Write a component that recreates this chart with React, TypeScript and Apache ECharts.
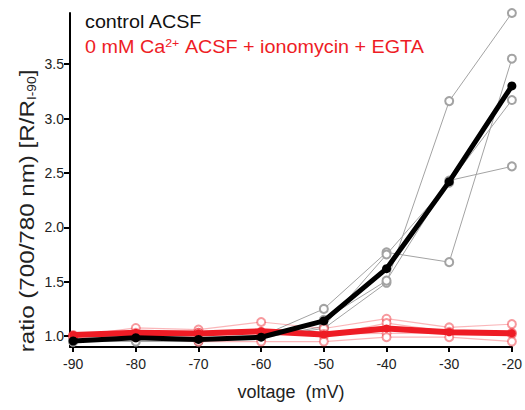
import React, { useEffect, useRef } from "react";
import * as echarts from "echarts";

const voltages = [-90, -80, -70, -60, -50, -40, -30, -20];

const controlTraces = [
  [0.95, 0.95, 0.95, 1.0, 1.25, 1.77, 1.68, 3.55],
  [0.96, 1.0, 0.98, 0.98, 1.09, 1.75, 2.41, 3.17],
  [0.95, 0.99, 0.97, 0.99, 1.07, 1.49, 3.16, 3.97],
  [0.96, 1.0, 0.98, 0.99, 1.15, 1.51, 2.43, 2.56],
];
const controlMean = [0.955, 0.985, 0.97, 0.99, 1.14, 1.62, 2.42, 3.3];

const zeroCaTraces = [
  [1.0, 1.075, 1.06, 1.13, 1.07, 1.16, 1.08, 1.11],
  [1.0, 1.02, 1.03, 1.03, 1.0, 1.12, 1.04, 1.03],
  [1.01, 1.03, 1.03, 1.04, 1.02, 1.025, 1.03, 1.02],
  [1.0, 0.99, 0.95, 0.95, 0.95, 0.99, 0.99, 0.95],
];
const zeroCaMean = [1.01, 1.03, 1.025, 1.045, 1.015, 1.07, 1.035, 1.025];

const xTicks = [-90, -80, -70, -60, -50, -40, -30, -20];
const yTicks = [1.0, 1.5, 2.0, 2.5, 3.0, 3.5];

const FONT = "Liberation Sans, Arial, Helvetica, sans-serif";
const RED = "#ee1c25";
const GRAY = "#a3a3a3";

export default function App() {
  const ref = useRef<HTMLDivElement>(null);
  useEffect(() => {
    if (!ref.current) return;
    const chart = echarts.init(ref.current, null, { renderer: "svg" });
    const pair = (arr: number[]) => voltages.map((v, i) => [v, arr[i]]);
    const series: any[] = [];
    controlTraces.forEach((t) =>
      series.push({
        type: "line",
        data: pair(t),
        symbol: "emptyCircle",
        symbolSize: 8,
        showAllSymbol: true,
        lineStyle: { color: GRAY, width: 1 },
        itemStyle: { color: GRAY, borderWidth: 1 },
        z: 2,
      })
    );
    zeroCaTraces.forEach((t) =>
      series.push({
        type: "line",
        data: pair(t),
        symbol: "emptyCircle",
        symbolSize: 8,
        showAllSymbol: true,
        lineStyle: { color: "rgba(238,28,37,0.32)", width: 1.2 },
        itemStyle: { color: "rgba(238,28,37,0.45)", borderWidth: 1.2 },
        z: 3,
      })
    );
    series.push({
      type: "line",
      data: pair(zeroCaMean),
      symbol: "circle",
      symbolSize: 8,
      lineStyle: { color: RED, width: 6 },
      itemStyle: { color: RED },
      z: 4,
    });
    series.push({
      type: "line",
      data: pair(controlMean),
      symbol: "circle",
      symbolSize: 9,
      lineStyle: { color: "#000", width: 5 },
      itemStyle: { color: "#000" },
      z: 5,
    });

    chart.setOption({
      animation: false,
      grid: { left: 70, right: 10, top: 13, bottom: 63, containLabel: false },
      xAxis: {
        type: "value",
        min: -90.5,
        max: -20,
        axisLine: { show: true, lineStyle: { color: "#000", width: 2 } },
        axisTick: { show: true, length: 5, lineStyle: { color: "#000", width: 2 }, customValues: xTicks },
        axisLabel: {
          customValues: xTicks,
          color: "#222",
          fontSize: 14,
          fontFamily: FONT,
          margin: 10,
        },
        splitLine: { show: false },
        name: "voltage  (mV)",
        nameLocation: "middle",
        nameGap: 36,
        nameTextStyle: { fontSize: 18, color: "#222", fontFamily: FONT },
      },
      yAxis: {
        type: "value",
        min: 0.9,
        max: 3.97,
        axisLine: { show: true, lineStyle: { color: "#000", width: 2 } },
        axisTick: { show: true, length: 6, lineStyle: { color: "#000", width: 2 }, customValues: yTicks },
        axisLabel: {
          customValues: yTicks,
          formatter: (v: number) => v.toFixed(1),
          color: "#222",
          fontSize: 14,
          fontFamily: FONT,
          margin: 6,
        },
        splitLine: { show: false },
      },
      graphic: [
        {
          type: "text",
          x: 27,
          y: 211,
          rotation: Math.PI / 2,
          scaleX: 1.15,
          style: {
            text: "ratio (700/780 nm) [R/R{sub|I-90}]",
            fontSize: 21,
            fontFamily: FONT,
            fill: "#222",
            align: "center",
            verticalAlign: "middle",
            rich: {
              sub: { fontSize: 12, fontFamily: FONT, fill: "#222", verticalAlign: "bottom", padding: [9, 0, 0, 0] },
            },
          },
        },
        {
          type: "text",
          x: 85,
          y: 22,
          scaleX: 1.13,
          style: {
            text: "control ACSF",
            fontSize: 17.5,
            fontFamily: FONT,
            fill: "#111",
            verticalAlign: "middle",
          },
        },
        {
          type: "text",
          x: 85,
          y: 47,
          scaleX: 1.13,
          style: {
            text: "0 mM Ca{sup|2+} ACSF + ionomycin + EGTA",
            fontSize: 17.5,
            fontFamily: FONT,
            fill: RED,
            verticalAlign: "middle",
            rich: {
              sup: { fontSize: 11, fontFamily: FONT, fill: RED, verticalAlign: "top", padding: [0, 1, 8, 0] },
            },
          },
        },
      ],
      series,
    });
    return () => chart.dispose();
  }, []);
  return <div ref={ref} style={{ width: 525, height: 410, position: "absolute", left: 0, top: 0 }} />;
}
